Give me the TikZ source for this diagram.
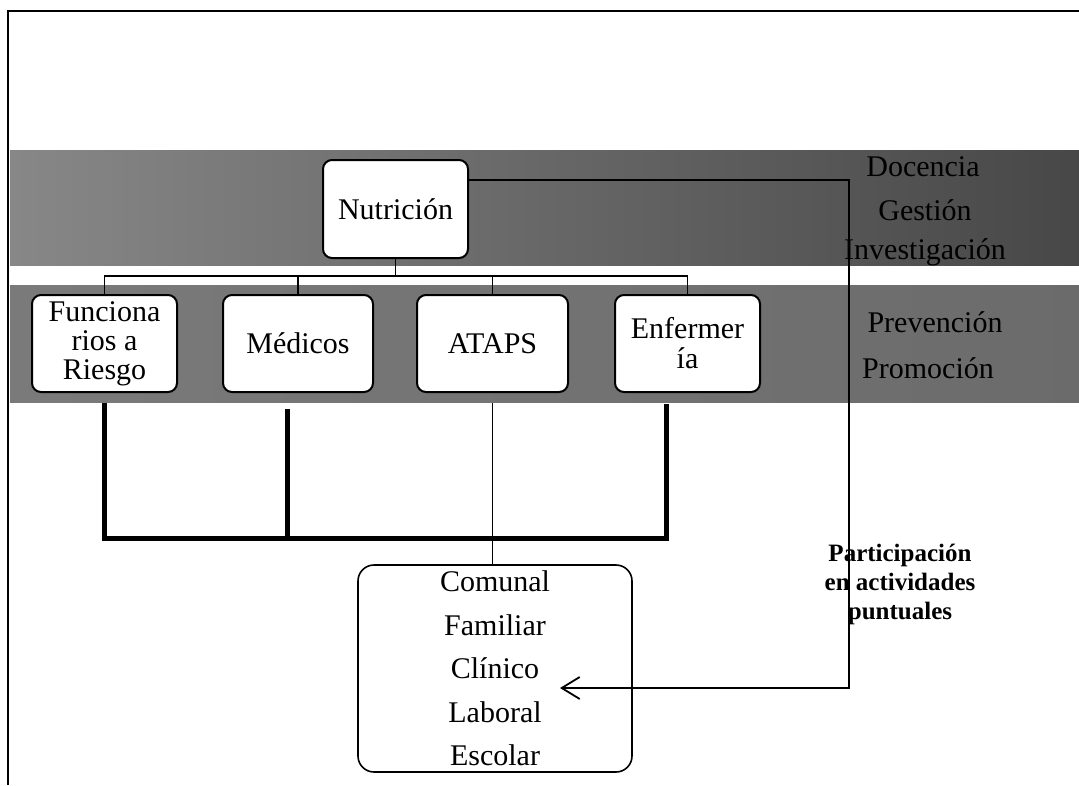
\documentclass[tikz,border=0pt]{standalone}
\usepackage{fontspec}
\setmainfont{Liberation Serif}
\usetikzlibrary{arrows.meta}

\tikzset{
  unitbox/.style={draw=black, line width=2pt, rounded corners=9pt, fill=white,
    align=center, inner sep=0pt, font=\fontsize{30}{30}\selectfont},
  bandlabel/.style={inner sep=0pt, text=black, font=\fontsize{30}{42}\selectfont, align=center},
  thinline/.style={draw=black, line width=1.6pt},
  heavyline/.style={draw=black, line width=5pt},
  noteline/.style={draw=black, line width=1.8pt, -{Straight Barb[length=18pt,width=22pt,line width=1.8pt]}}
}

\begin{document}
\begin{tikzpicture}[x=1pt, y=-1pt]
  \useasboundingbox (0,0) rectangle (1079,785);

  % page frame (left and top edges)
  \draw[line width=2pt] (8,785) -- (8,11) -- (1079,11);

  % shaded bands
  \shade[left color=black!47, middle color=black!55, right color=black!72]
    (10,150) rectangle (1079,265);
  \shade[left color=black!52, middle color=black!42, right color=black!58]
    (10,285) rectangle (1079,402);

  % band labels
  \node[bandlabel] (doc) at (923,167) {Docencia};
  \node[bandlabel] (ges) at (925,210) {Gestión};
  \node[bandlabel] (inv) at (925,252) {Investigación};
  \node[bandlabel] (pre) at (935,322) {Prevención};
  \node[bandlabel] (pro) at (928,368) {Promoción};

  % boxes
  \node[unitbox, minimum width=145pt, minimum height=98pt] (nut) at (395.5,209) {Nutrición};
  \node[unitbox, minimum width=145pt, minimum height=97pt, font=\fontsize{30}{29}\selectfont] (fun) at (104.5,343.5) {Funciona\\rios a\\Riesgo};
  \node[unitbox, minimum width=150pt, minimum height=97pt] (med) at (298,343.5) {Médicos};
  \node[unitbox, minimum width=151pt, minimum height=97pt] (ata) at (492.5,343.5) {ATAPS};
  \node[unitbox, minimum width=145pt, minimum height=97pt] (enf) at (687.5,343.5) {Enfermer\\ía};
  \node[unitbox, line width=1.6pt, rounded corners=16pt, minimum width=274pt, minimum height=207pt,
        font=\fontsize{30}{43.5}\selectfont] (com) at (495,668.5)
        {Comunal\\Familiar\\Clínico\\Laboral\\Escolar};

  % tree from Nutrición to the four units
  \coordinate (bus) at (397,276);
  \draw[thinline] (nut.south) -- (nut.south |- bus);
  \foreach \n in {fun,med,ata,enf}{
    \draw[thinline] (nut.south |- bus) -| (\n.north);
  }

  % heavy bracket under the units
  \coordinate (hb) at (0,538);
  \draw[heavyline] ([yshift=-10pt]fun.south) -- (fun.south |- hb)
     -- ([xshift=-21pt]enf.south |- hb) -- ([xshift=-21pt,yshift=-11pt]enf.south);
  \draw[heavyline] ([xshift=-11pt,yshift=-16pt]med.south) -- ([xshift=-11pt]med.south |- hb);

  % ATAPS to the settings box
  \draw[thinline] ([yshift=-10pt]ata.south) -- (ata.south |- com.north);

  % participation note and its link (the link runs over the note)
  \node[align=center, inner sep=0pt, font=\bfseries\fontsize{25}{29}\selectfont] (part) at (900,584)
    {Participación\\en actividades\\puntuales};
  \coordinate (corner) at (849,688);
  \coordinate (tip) at (560,688);
  \draw[noteline] ([yshift=29pt]nut.east) -| (corner) -- (tip);
\end{tikzpicture}
\end{document}
